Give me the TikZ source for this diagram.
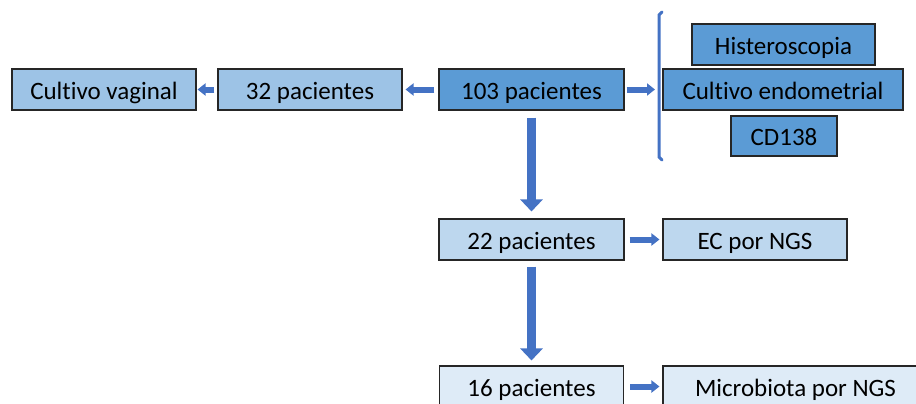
\documentclass[tikz,border=0pt]{standalone}
\usepackage{fontspec}
\setmainfont{Carlito}[Ligatures=NoCommon]
\usetikzlibrary{arrows.meta}
\definecolor{azulmed}{HTML}{5B9BD5}
\definecolor{azulclaro}{HTML}{9DC3E6}
\definecolor{azulpal}{HTML}{BDD7EE}
\definecolor{azulbla}{HTML}{DEEBF7}
\definecolor{flechacol}{HTML}{4472C4}
\begin{document}
\begin{tikzpicture}[x=1bp,y=-1bp,
  caja/.style={draw=black!85,line width=1.1bp,minimum height=41bp,inner sep=0pt,
    text height=19bp,text depth=0pt,font=\fontsize{25bp}{28bp}\selectfont},
  flecha/.style={draw=flechacol,line width=6bp,-{Triangle[width=12bp,length=8bp]}},
  flechav/.style={draw=flechacol,line width=9bp,-{Triangle[width=22bp,length=12bp]}},
]
\useasboundingbox (0,0) rectangle (916,403);
%%
\node (vag) at (104,89.5) [caja,fill=azulclaro,minimum width=184bp] {Cultivo vaginal};
  \node (p32) at (310,89.5) [caja,fill=azulclaro,minimum width=184bp] {32 pacientes};
  \node (p103) at (531.5,89.5) [caja,fill=azulmed,minimum width=185bp] {103 pacientes};
  \node (hist) at (783.5,44.5) [caja,fill=azulmed,minimum width=183bp] {Histeroscopia};
  \node (cendo) at (783,89.5) [caja,fill=azulmed,minimum width=240bp] {Cultivo endometrial};
  \node (cd) at (784,136) [caja,fill=azulmed,minimum width=106bp,minimum height=40bp] {CD138};
  \node (p22) at (531.5,239.5) [caja,fill=azulpal,minimum width=185bp] {22 pacientes};
  \node (ec) at (755,239.5) [caja,fill=azulpal,minimum width=184bp] {EC por NGS};
  \node (p16) at (531.5,386.5) [caja,fill=azulbla,minimum width=184bp] {16 pacientes};
  \node (micro) at (795.5,386.5) [caja,fill=azulbla,minimum width=265bp] {Microbiota por NGS};
  \coordinate (brk) at (659,89.5);
  % llave
  \draw [flechacol,line width=3bp,line cap=round] (662,12) -- (659,15) -- (659,157) -- (662,160);
  \draw [flecha,shorten <=4bp,shorten >=3bp] (p103) -- (p32);
  \draw [flecha,shorten <=3bp,shorten >=1bp] (p32) -- (vag);
  \draw [flecha,shorten <=2bp,shorten >=4bp] (p103) -- (brk);
  \draw [flechav,shorten <=7bp,shorten >=7bp] (p103) -- (p22);
  \draw [flecha,shorten <=5bp,shorten >=3bp] (p22) -- (ec);
  \draw [flechav,shorten <=6bp,shorten >=5bp] (p22) -- (p16);
  \draw [flecha,shorten <=6bp,shorten >=3bp] (p16) -- (micro);
%
\end{tikzpicture}
\end{document}
